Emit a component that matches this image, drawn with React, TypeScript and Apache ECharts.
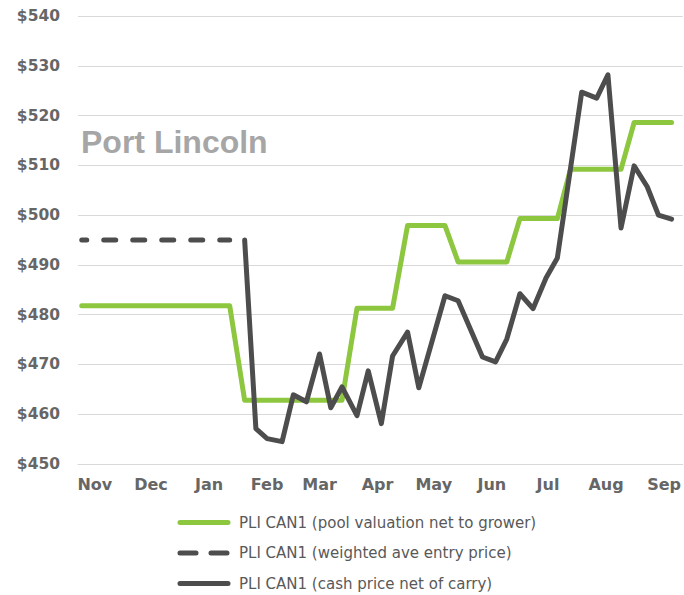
import React, { useEffect, useRef } from "react";
import * as echarts from "echarts";

// ---- data ----
const yMin = 450;
const yMax = 540;
const yStep = 10;

const monthStarts = [
  "2022-11-01", "2022-12-01", "2023-01-01", "2023-02-01", "2023-03-01", "2023-04-01",
  "2023-05-01", "2023-06-01", "2023-07-01", "2023-08-01", "2023-09-01",
];
const monthLabels = ["Nov", "Dec", "Jan", "Feb", "Mar", "Apr", "May", "Jun", "Jul", "Aug", "Sep"];

const poolName = "PLI CAN1 (pool valuation net to grower)";
const poolDates = [
  "2022-10-25", "2023-01-12", "2023-01-20", "2023-03-13", "2023-03-21", "2023-04-09",
  "2023-04-17", "2023-05-07", "2023-05-14", "2023-06-09", "2023-06-16", "2023-07-06",
  "2023-07-13", "2023-08-09", "2023-08-16", "2023-09-05",
];
const poolValues = [
  481.8, 481.8, 462.8, 462.8, 481.3, 481.3,
  497.9, 497.9, 490.6, 490.6, 499.3, 499.3,
  509.2, 509.2, 518.6, 518.6,
];

const entryName = "PLI CAN1 (weighted ave entry price)";
const entryDates = ["2022-10-25", "2023-01-12"];
const entryValues = [495.0, 495.0];

const cashName = "PLI CAN1 (cash price net of carry)";
const cashDates = [
  "2023-01-20", "2023-01-26", "2023-02-01", "2023-02-09", "2023-02-15", "2023-02-22",
  "2023-03-01", "2023-03-07", "2023-03-13", "2023-03-21", "2023-03-27", "2023-04-03",
  "2023-04-09", "2023-04-17", "2023-04-23", "2023-05-07", "2023-05-14", "2023-05-27",
  "2023-06-03", "2023-06-09", "2023-06-16", "2023-06-23", "2023-06-30", "2023-07-06",
  "2023-07-19", "2023-07-27", "2023-08-02", "2023-08-09", "2023-08-16", "2023-08-23",
  "2023-08-29", "2023-09-05",
];
const cashValues = [
  495.0, 457.1, 455.1, 454.5, 463.9, 462.5,
  472.1, 461.3, 465.5, 459.7, 468.7, 458.1,
  471.7, 476.5, 465.3, 483.8, 482.8, 471.5,
  470.5, 475.1, 484.2, 481.2, 487.4, 491.4,
  524.7, 523.5, 528.2, 497.4, 509.9, 505.7,
  500.0, 499.2,
];

const axisStart = "2022-10-23";
const axisEnd = "2023-09-11";

const DAY = 86400000;
function ts(s: string): number {
  const [y, m, d] = s.split("-").map(Number);
  return Date.UTC(y, m - 1, d);
}
// day number counted from the axis start date
function dayNum(s: string): number {
  return Math.round((ts(s) - ts(axisStart)) / DAY);
}

function pairs(dates: string[], values: number[]) {
  return dates.map((d, i) => [dayNum(d), values[i]]);
}

const GREEN = "#8dc63f";
const DARK = "#4d4d4d";
const GRID = "#d9d9d9";
const LABEL = "#666666";

export default function App() {
  const ref = useRef<HTMLDivElement>(null);

  useEffect(() => {
    if (!ref.current) return;
    const chart = echarts.init(ref.current, undefined, { renderer: "svg" });
    const monthDays = monthStarts.map(dayNum);
    chart.setOption({
      animation: false,
      title: {
        text: "Port Lincoln",
        left: 81,
        top: 126,
        padding: 0,
        textStyle: {
          fontFamily: "Liberation Sans",
          fontWeight: "bold",
          fontSize: 32,
          color: "#a6a6a6",
        },
      },
      grid: { left: 78, right: 0, top: 16, bottom: 131, containLabel: false },
      xAxis: {
        type: "value",
        min: 0,
        max: dayNum(axisEnd),
        axisLine: { show: true, lineStyle: { color: GRID, width: 1 } },
        axisTick: { show: false },
        splitLine: { show: false },
        axisLabel: {
          customValues: monthDays,
          margin: 12,
          color: LABEL,
          fontFamily: "DejaVu Sans",
          fontWeight: "bold",
          fontSize: 16,
          formatter: (v: number) => {
            const idx = monthDays.indexOf(v);
            return idx >= 0 ? monthLabels[idx] : "";
          },
        },
      },
      yAxis: {
        type: "value",
        min: yMin,
        max: yMax,
        interval: yStep,
        axisLine: { show: false },
        axisTick: { show: false },
        splitLine: { show: true, lineStyle: { color: GRID, width: 1 } },
        axisLabel: {
          margin: 18,
          color: LABEL,
          fontFamily: "DejaVu Sans",
          fontWeight: "bold",
          fontSize: 15.5,
          formatter: (v: number) => "$" + v,
        },
      },
      legend: {
        orient: "vertical",
        left: 177.5,
        top: 515,
        padding: 0,
        itemWidth: 48,
        itemHeight: 14,
        itemGap: 15.5,
        itemStyle: { opacity: 0 },
        lineStyle: { width: 5, cap: "round" },
        textStyle: {
          fontFamily: "DejaVu Sans",
          fontSize: 15,
          color: "#595959",
          padding: [0, 0, 0, 6],
        },
        data: [
          { name: poolName },
          { name: entryName, lineStyle: { width: 5, type: [16, 15], dashOffset: 0, cap: "round" } },
          { name: cashName },
        ],
      },
      series: [
        {
          name: poolName,
          type: "line",
          data: pairs(poolDates, poolValues),
          symbol: "none",
          lineStyle: { color: GREEN, width: 5, cap: "round", join: "round" },
          itemStyle: { color: GREEN },
          z: 2,
        },
        {
          name: entryName,
          type: "line",
          data: pairs(entryDates, entryValues),
          symbol: "none",
          lineStyle: { color: DARK, width: 5, type: [12, 17], dashOffset: 7, cap: "round" },
          itemStyle: { color: DARK },
          z: 3,
        },
        {
          name: cashName,
          type: "line",
          data: pairs(cashDates, cashValues),
          symbol: "none",
          lineStyle: { color: DARK, width: 5, cap: "round", join: "round" },
          itemStyle: { color: DARK },
          z: 4,
        },
      ],
    });
    return () => chart.dispose();
  }, []);

  return <div ref={ref} style={{ width: 684, height: 595, position: "absolute", left: 0, top: 0 }} />;
}
